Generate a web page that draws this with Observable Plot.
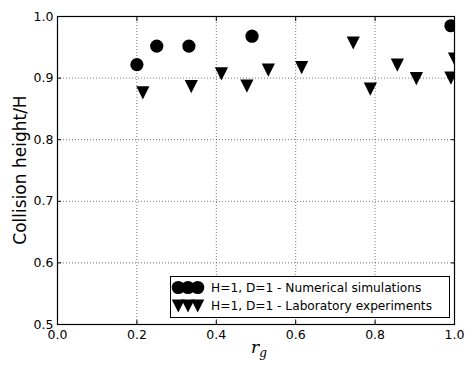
<!DOCTYPE html>
<html>
<head>
<meta charset="utf-8">
<script src="https://cdn.jsdelivr.net/npm/d3@7"></script>
<script src="https://cdn.jsdelivr.net/npm/@observablehq/plot@0.6"></script>
<style>
  html, body { margin: 0; padding: 0; background: #fff; }
  #chart { position: relative; width: 465px; height: 365px; }
  svg { font-family: "DejaVu Sans", sans-serif; }
</style>
</head>
<body>
<div id="chart"></div>
<script>
// Numerical simulations (circles)
const simX = [0.200, 0.250, 0.331, 0.490, 0.991];
const simY = [0.922, 0.952, 0.952, 0.968, 0.985];
// Laboratory experiments (down triangles)
const labX = [0.215, 0.337, 0.413, 0.477, 0.531, 0.615, 0.745, 0.788, 0.856, 0.904, 0.991, 1.000];
const labY = [0.876, 0.886, 0.907, 0.887, 0.913, 0.917, 0.957, 0.882, 0.921, 0.899, 0.900, 0.931];

const xTicks = [0.0, 0.2, 0.4, 0.6, 0.8, 1.0];
const yTicks = [0.5, 0.6, 0.7, 0.8, 0.9, 1.0];

const seriesNames = ["H=1, D=1 - Numerical simulations", "H=1, D=1 - Laboratory experiments"];
const yLabel = "Collision height/H";

const sim = simX.map((x, i) => ({x, y: simY[i]}));
const lab = labX.map((x, i) => ({x, y: labY[i]}));

// down-pointing triangle like matplotlib 'v' (centered on bbox)
const triDown = {
  draw(ctx, size) {
    const s = Math.sqrt(size / Math.PI);
    ctx.moveTo(-s, -s);
    ctx.lineTo(s, -s);
    ctx.lineTo(0, s);
    ctx.closePath();
  }
};

const fmt = d3.format(".1f");
const gridStyle = {stroke: "#000", strokeOpacity: 0.55, strokeWidth: 1, strokeDasharray: "1,2"};

const plot = Plot.plot({
  width: 465,
  height: 365,
  marginLeft: 57,
  marginRight: 11,
  marginTop: 16,
  marginBottom: 41,
  style: {fontFamily: "DejaVu Sans, sans-serif", fontSize: "12px", color: "#000", background: "#fff"},
  x: {domain: [0, 1]},
  y: {domain: [0.5, 1]},
  marks: [
    Plot.gridX(xTicks, gridStyle),
    Plot.gridY(yTicks, gridStyle),
    Plot.axisX({ticks: xTicks, tickFormat: fmt, tickSize: -4, tickPadding: 10, fontSize: 12.5, label: null, stroke: "#000", strokeOpacity: 1}),
    Plot.axisX({ticks: xTicks, anchor: "top", tickFormat: () => "", tickSize: -4, label: null, strokeOpacity: 1}),
    Plot.axisY({ticks: yTicks, tickFormat: fmt, tickSize: -4, tickPadding: 8, fontSize: 12.5, label: null, strokeOpacity: 1}),
    Plot.axisY({ticks: yTicks, anchor: "right", tickFormat: () => "", tickSize: -4, label: null, strokeOpacity: 1}),
    Plot.dot(sim, {x: "x", y: "y", r: 6.6, symbol: "circle", fill: "#000", stroke: "none", clip: true}),
    Plot.dot(lab, {x: "x", y: "y", r: 6.6, symbol: triDown, fill: "#000", stroke: "none", clip: true}),
    Plot.frame({stroke: "#000", strokeWidth: 1.2})
  ]
});

document.getElementById("chart").appendChild(plot);

const svg = d3.select(plot);

// y label
svg.append("text")
  .attr("transform", "translate(26,170) rotate(-90)")
  .attr("text-anchor", "middle")
  .attr("font-family", "DejaVu Sans, sans-serif")
  .attr("font-size", 17)
  .attr("fill", "#000")
  .text(yLabel);

// x label r_g (math italic)
const xl = svg.append("text")
  .attr("x", 251)
  .attr("y", 353)
  .attr("text-anchor", "start")
  .attr("font-family", "DejaVu Serif, serif")
  .attr("font-style", "italic")
  .attr("font-size", 17)
  .attr("fill", "#000");
xl.append("tspan").text("r");
xl.append("tspan").attr("font-size", 12).attr("dy", 4).text("g");

// legend
const lg = svg.append("g").attr("text-anchor", "start");
lg.append("rect")
  .attr("x", 170.5).attr("y", 276.5).attr("width", 279).attr("height", 41)
  .attr("fill", "#fff").attr("stroke", "#000").attr("stroke-width", 1);
const lx = [178.3, 188, 197.7];
lx.forEach(x => lg.append("circle").attr("cx", x).attr("cy", 287.5).attr("r", 6.6).attr("fill", "#000"));
const triPath = d3.symbol(triDown, Math.PI * 6.6 * 6.6)();
lx.forEach(x => lg.append("path").attr("d", triPath).attr("transform", `translate(${x},306)`).attr("fill", "#000"));
seriesNames.forEach((t, i) => lg.append("text")
  .attr("x", 211).attr("y", i === 0 ? 291.8 : 310.3)
  .attr("text-anchor", "start")
  .attr("font-family", "DejaVu Sans, sans-serif")
  .attr("font-size", 12.2).attr("fill", "#000").text(t));
</script>
</body>
</html>
